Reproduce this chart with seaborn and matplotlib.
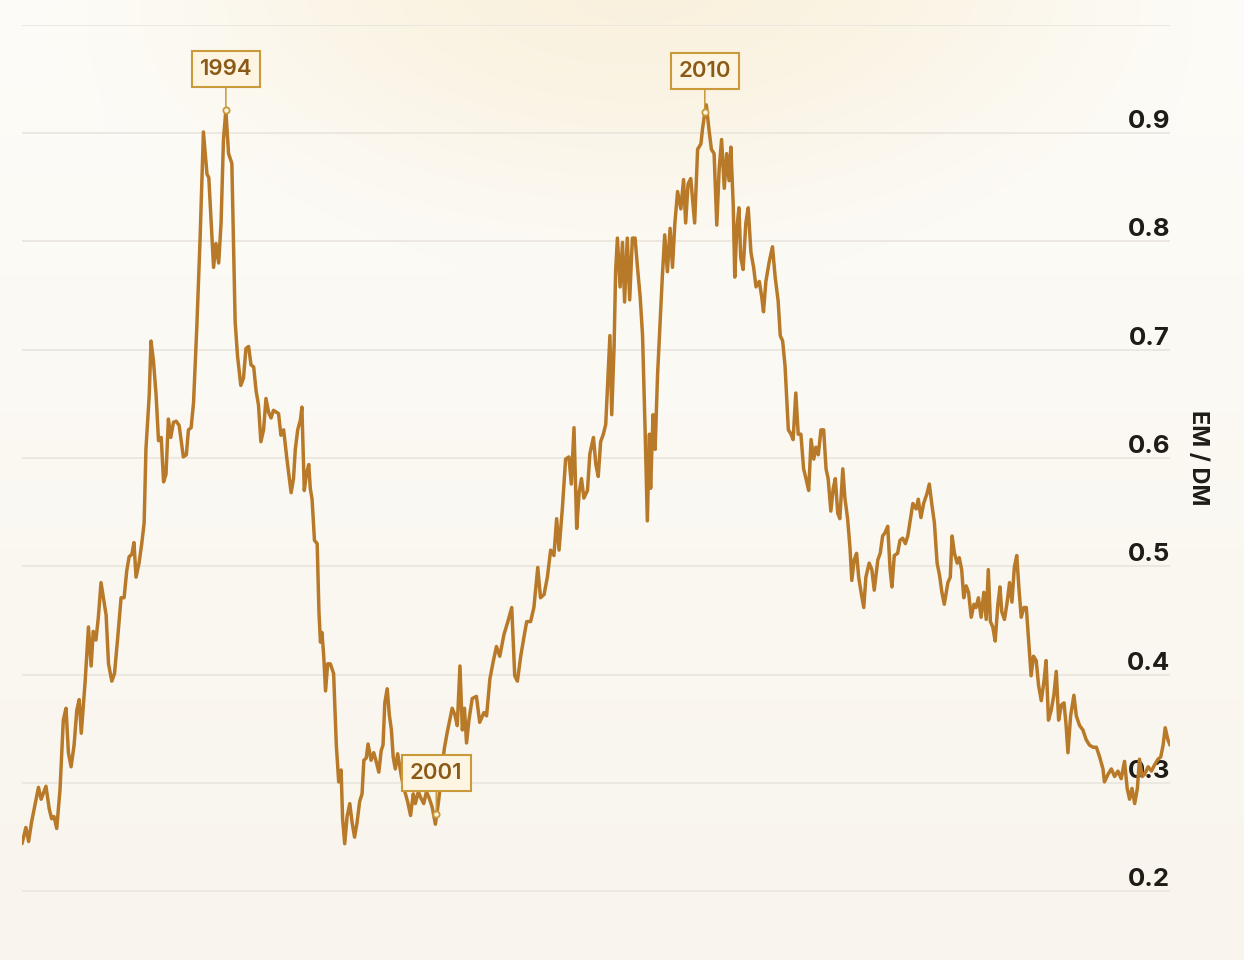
import numpy as np
import matplotlib
matplotlib.use("Agg")
import matplotlib.pyplot as plt
from matplotlib.transforms import ScaledTranslation
import seaborn as sns

# ---------------- data ----------------
years = [
    1988.00, 1988.13, 1988.22, 1988.32, 1988.55, 1988.64, 1988.80, 1988.91, 1988.99, 1989.07,
    1989.16, 1989.27, 1989.38, 1989.47, 1989.55, 1989.64, 1989.74, 1989.83, 1989.91, 1989.98,
    1990.11, 1990.22, 1990.31, 1990.38, 1990.47, 1990.55, 1990.64, 1990.81, 1990.89, 1991.00,
    1991.09, 1991.20, 1991.31, 1991.41, 1991.50, 1991.58, 1991.67, 1991.74, 1991.81, 1991.91,
    1992.00, 1992.08, 1992.14, 1992.25, 1992.31, 1992.39, 1992.48, 1992.56, 1992.65, 1992.73,
    1992.81, 1992.89, 1992.97, 1993.06, 1993.15, 1993.25, 1993.39, 1993.49, 1993.56, 1993.65,
    1993.73, 1993.84, 1993.95, 1994.06, 1994.18, 1994.24, 1994.40, 1994.48, 1994.57, 1994.65,
    1994.73, 1994.81, 1994.90, 1995.01, 1995.12, 1995.20, 1995.31, 1995.40, 1995.48, 1995.57,
    1995.65, 1995.74, 1995.82, 1995.90, 1995.98, 1996.07, 1996.15, 1996.24, 1996.32, 1996.40,
    1996.57, 1996.65, 1996.74, 1996.85, 1996.99, 1997.07, 1997.13, 1997.21, 1997.30, 1997.35,
    1997.43, 1997.50, 1997.58, 1997.63, 1997.69, 1997.77, 1997.86, 1997.92, 1997.97, 1998.02,
    1998.08, 1998.14, 1998.21, 1998.30, 1998.41, 1998.50, 1998.58, 1998.66, 1998.71, 1998.78,
    1998.86, 1998.95, 1999.03, 1999.11, 1999.19, 1999.28, 1999.36, 1999.42, 1999.50, 1999.56,
    1999.66, 1999.75, 1999.84, 1999.92, 2000.00, 2000.06, 2000.12, 2000.20, 2000.27, 2000.34,
    2000.40, 2000.47, 2000.55, 2000.68, 2000.78, 2000.88, 2000.98, 2001.07, 2001.14, 2001.24,
    2001.31, 2001.42, 2001.51, 2001.59, 2001.70, 2001.81, 2001.92, 2002.04, 2002.11, 2002.20,
    2002.29, 2002.37, 2002.46, 2002.54, 2002.63, 2002.71, 2002.78, 2002.85, 2002.93, 2003.04,
    2003.18, 2003.29, 2003.43, 2003.52, 2003.63, 2003.74, 2003.85, 2003.96, 2004.10, 2004.23,
    2004.36, 2004.46, 2004.55, 2004.66, 2004.77, 2004.86, 2004.99, 2005.10, 2005.23, 2005.32,
    2005.44, 2005.55, 2005.66, 2005.77, 2005.86, 2005.94, 2006.05, 2006.16, 2006.27, 2006.35,
    2006.44, 2006.53, 2006.61, 2006.69, 2006.77, 2006.89, 2006.97, 2007.09, 2007.17, 2007.25,
    2007.33, 2007.42, 2007.50, 2007.56, 2007.64, 2007.70, 2007.78, 2007.83, 2007.89, 2007.98,
    2008.06, 2008.13, 2008.22, 2008.30, 2008.39, 2008.48, 2008.56, 2008.65, 2008.73, 2008.81,
    2008.89, 2008.96, 2009.00, 2009.08, 2009.15, 2009.23, 2009.31, 2009.39, 2009.47, 2009.56,
    2009.65, 2009.73, 2009.81, 2009.90, 2010.01, 2010.10, 2010.17, 2010.25, 2010.34, 2010.47,
    2010.57, 2010.68, 2010.73, 2010.81, 2010.86, 2010.95, 2011.03, 2011.12, 2011.21, 2011.29,
    2011.37, 2011.46, 2011.54, 2011.62, 2011.68, 2011.76, 2011.81, 2011.88, 2011.95, 2012.01,
    2012.09, 2012.18, 2012.26, 2012.35, 2012.44, 2012.52, 2012.63, 2012.71, 2012.77, 2012.85,
    2012.96, 2013.07, 2013.16, 2013.26, 2013.33, 2013.41, 2013.49, 2013.55, 2013.60, 2013.69,
    2013.76, 2013.85, 2013.93, 2014.02, 2014.11, 2014.19, 2014.28, 2014.36, 2014.45, 2014.52,
    2014.60, 2014.69, 2014.78, 2014.86, 2014.93, 2015.02, 2015.10, 2015.17, 2015.25, 2015.32,
    2015.42, 2015.49, 2015.58, 2015.66, 2015.72, 2015.80, 2015.88, 2015.95, 2016.03, 2016.12,
    2016.19, 2016.30, 2016.39, 2016.47, 2016.59, 2016.67, 2016.75, 2016.83, 2016.92, 2017.00,
    2017.06, 2017.14, 2017.25, 2017.33, 2017.42, 2017.51, 2017.59, 2017.68, 2017.76, 2017.87,
    2017.94, 2018.03, 2018.12, 2018.23, 2018.31, 2018.39, 2018.48, 2018.57, 2018.65, 2018.73,
    2018.81, 2018.93, 2019.01, 2019.07, 2019.15, 2019.24, 2019.31, 2019.39, 2019.46, 2019.54,
    2019.62, 2019.71, 2019.80, 2019.87, 2019.95, 2020.04, 2020.13, 2020.21, 2020.28, 2020.35,
    2020.43, 2020.51, 2020.60, 2020.67, 2020.73, 2020.82, 2020.91, 2020.99, 2021.07, 2021.15,
    2021.23, 2021.30, 2021.38, 2021.47, 2021.55, 2021.62, 2021.71, 2021.79, 2021.88, 2021.96,
    2022.05, 2022.14, 2022.21, 2022.29, 2022.38, 2022.47, 2022.55, 2022.63, 2022.72, 2022.81,
    2022.88, 2022.94, 2023.03, 2023.14, 2023.22, 2023.33, 2023.44, 2023.55, 2023.66, 2023.78,
    2023.89, 2024.00, 2024.11, 2024.16, 2024.28, 2024.39, 2024.50, 2024.61, 2024.72, 2024.83,
    2024.92, 2025.00, 2025.08, 2025.17, 2025.26, 2025.33, 2025.42, 2025.50, 2025.62, 2025.73,
    2025.84, 2025.95, 2026.04, 2026.12, 2026.19, 2026.28, 2026.35,
]

em_dm = [
    .244, .259, .246, .264, .296, .285, .297, .276, .267, .269,
    .258, .294, .358, .369, .328, .315, .335, .367, .377, .346,
    .394, .444, .408, .440, .432, .453, .485, .455, .410, .394,
    .401, .435, .471, .471, .496, .509, .511, .522, .490, .503,
    .521, .540, .608, .658, .708, .690, .658, .616, .619, .578,
    .585, .636, .619, .633, .634, .630, .601, .603, .626, .628,
    .651, .721, .803, .901, .862, .859, .776, .798, .780, .817,
    .894, .921, .881, .872, .726, .694, .667, .674, .701, .703,
    .686, .684, .662, .649, .615, .626, .655, .642, .637, .644,
    .641, .621, .626, .599, .568, .581, .608, .626, .635, .647,
    .570, .585, .594, .572, .562, .524, .521, .458, .430, .439,
    .417, .385, .410, .410, .401, .335, .301, .312, .267, .244,
    .269, .281, .263, .250, .263, .283, .290, .321, .323, .336,
    .321, .328, .319, .310, .330, .335, .374, .387, .363, .349,
    .324, .313, .327, .305, .293, .283, .270, .290, .281, .292,
    .287, .281, .292, .287, .278, .262, .284, .317, .332, .346,
    .358, .369, .363, .353, .408, .349, .369, .337, .358, .378,
    .380, .356, .365, .362, .396, .412, .426, .417, .437, .449,
    .462, .399, .394, .417, .435, .449, .449, .462, .499, .471,
    .474, .490, .515, .510, .544, .515, .553, .599, .601, .576,
    .628, .535, .568, .581, .563, .570, .604, .619, .594, .583,
    .615, .622, .631, .667, .713, .640, .704, .772, .803, .758,
    .799, .744, .803, .746, .803, .803, .776, .749, .713, .631,
    .542, .622, .572, .640, .608, .676, .721, .767, .806, .772,
    .812, .776, .817, .846, .830, .857, .817, .853, .858, .817,
    .885, .890, .903, .919, .926, .903, .885, .881, .815, .867,
    .894, .849, .881, .856, .887, .833, .767, .812, .831, .785,
    .774, .817, .831, .790, .776, .758, .763, .749, .735, .763,
    .781, .795, .767, .745, .713, .708, .685, .653, .626, .622,
    .617, .660, .622, .622, .590, .581, .570, .617, .599, .610,
    .603, .626, .626, .590, .581, .551, .572, .581, .549, .544,
    .590, .563, .544, .517, .487, .506, .512, .490, .476, .462,
    .490, .503, .497, .478, .506, .512, .528, .531, .537, .497,
    .481, .510, .512, .524, .526, .521, .528, .544, .558, .553,
    .562, .545, .558, .567, .576, .558, .540, .503, .492, .476,
    .465, .485, .490, .528, .512, .503, .508, .497, .471, .482,
    .476, .453, .465, .462, .471, .453, .476, .451, .497, .449,
    .444, .431, .465, .481, .458, .451, .467, .485, .467, .499,
    .510, .481, .453, .462, .462, .435, .399, .417, .413, .390,
    .376, .394, .413, .358, .367, .381, .403, .358, .372, .374,
    .353, .328, .362, .381, .362, .353, .349, .340, .335, .333,
    .333, .324, .313, .301, .308, .313, .306, .311, .304, .320,
    .295, .285, .295, .281, .295, .322, .306, .308, .315, .311,
    .317, .322, .324, .335, .351, .340, .335,
]

y_ticks = [0.2, 0.3, 0.4, 0.5, 0.6, 0.7, 0.8, 0.9, 1.0]
y_tick_labels = ["0.2", "0.3", "0.4", "0.5", "0.6", "0.7", "0.8", "0.9", ""]
axis_label = "EM / DM"

ann_years = [1994.81, 2001.84, 2010.81]
ann_values = [0.921, 0.271, 0.919]
ann_labels = ["1994", "2001", "2010"]

# ---------------- style ----------------
LINE = "#b87a29"
GOLD = "#c9993a"
BOXFACE = "#fdf5e2"
ANNTEXT = "#8a5a16"
TICKTEXT = "#1f1b16"
GRID = "#ebe6de"

sns.set_style("white")
plt.rcParams["font.family"] = ["Inter", "DejaVu Sans"]

W, H = 1244, 960
fig = plt.figure(figsize=(W / 100, H / 100), dpi=100)

# background gradient with a warm glow at the top centre
yy, xx = np.mgrid[0:H, 0:W].astype(float)
top = np.array([253, 252, 248]) / 255
bottom = np.array([249, 245, 237]) / 255
t = (yy / H)[..., None]
base = top * (1 - t) + bottom * t
glow = np.array([246, 228, 190]) / 255
d = ((xx - 640) / 650) ** 2 + ((yy + 40) / 330) ** 2
w = (0.45 * np.clip(1 - d, 0, 1) ** 1.8)[..., None]
img = base * (1 - w) + glow * w
bg = fig.add_axes([0, 0, 1, 1], zorder=0)
bg.imshow(img, aspect="auto", interpolation="bilinear")
bg.axis("off")

# main axes
left_px, right_px = 22, 1170
top_px, bot_px = 24.7, 945.5
ax = fig.add_axes([left_px / W, 1 - bot_px / H, (right_px - left_px) / W, (bot_px - top_px) / H], zorder=1)
ax.set_facecolor("none")

sns.lineplot(x=years, y=em_dm, ax=ax, color=LINE, linewidth=2.5, zorder=3)

ax.set_xlim(years[0], years[-1])
ax.set_ylim(0.15, 1.0)
ax.set_xticks([])
ax.set_yticks(y_ticks)
ax.set_yticklabels(y_tick_labels)
ax.yaxis.tick_right()
ax.tick_params(axis="y", length=0, pad=0, labelsize=18.5, labelcolor=TICKTEXT)
ax.grid(axis="y", color=GRID, linewidth=1.3, zorder=0)
ax.grid(axis="x", visible=False)
for s in ax.spines.values():
    s.set_visible(False)

offset = ScaledTranslation(0, 5 / 100, fig.dpi_scale_trans)
for lab in ax.get_yticklabels():
    lab.set_ha("right")
    lab.set_va("baseline")
    lab.set_fontweight("bold")
    lab.set_transform(lab.get_transform() + offset)

ax.yaxis.set_label_position("right")
ax.set_ylabel(axis_label, rotation=-90, fontsize=17, fontweight="bold", color=TICKTEXT,
              ha="center", va="center")
ax.yaxis.set_label_coords((1198 - left_px) / (right_px - left_px), (bot_px - 458) / (bot_px - top_px))

# annotations
ax.plot(ann_years, ann_values, "o", ms=4.5, mfc=BOXFACE, mec=GOLD, mew=1.3, zorder=6)
for yr, val, lab in zip(ann_years, ann_values, ann_labels):
    ax.annotate(
        lab, xy=(yr, val), xytext=(0, 29.5), textcoords="offset points",
        ha="center", va="center", fontsize=16, fontweight="semibold", color=ANNTEXT,
        bbox=dict(boxstyle="square,pad=0.36", fc=BOXFACE, ec=GOLD, lw=1.5),
        arrowprops=dict(arrowstyle="-", color=GOLD, lw=1.1, shrinkA=0, shrinkB=2),
        zorder=7,
    )

fig.savefig("out.png", dpi=100)
